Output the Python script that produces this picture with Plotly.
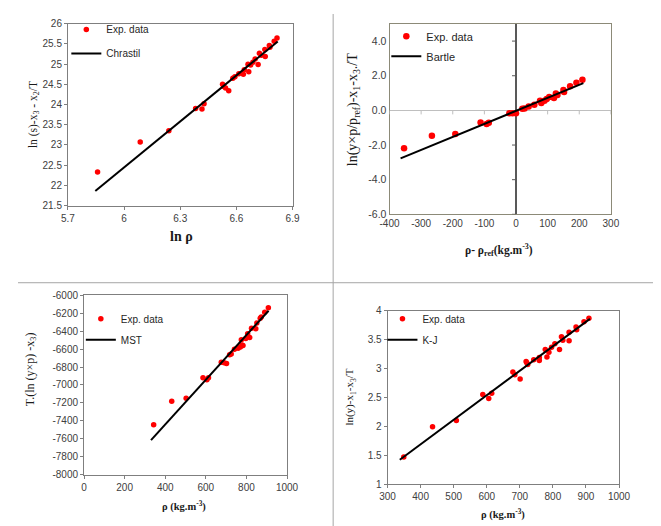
import plotly.graph_objects as go

# ---------------- data ----------------
# Panel 1: Chrastil
ln_rho = [5.858, 6.086, 6.239, 6.382, 6.416, 6.427, 6.526, 6.532, 6.542, 6.559, 6.581, 6.592,
          6.613, 6.637, 6.642, 6.662, 6.666, 6.676, 6.688, 6.700, 6.716, 6.723, 6.733, 6.752,
          6.754, 6.776, 6.779, 6.802, 6.817]
chrastil_exp = [22.33, 23.07, 23.35, 23.90, 23.89, 24.02, 24.50, 24.45, 24.41, 24.34, 24.65, 24.69,
                24.76, 24.75, 24.86, 25.00, 24.81, 24.98, 25.05, 25.13, 24.99, 25.27, 25.22, 25.36,
                25.19, 25.46, 25.42, 25.57, 25.65]
chrastil_fit_x = [5.846, 6.821]
chrastil_fit_y = [21.86, 25.56]

# Panel 2: Bartle
rho_minus_ref = [-354, -266, -192, -112, -93, -86, -21, -11, 0, 20, 27, 40, 58, 76, 80, 90, 97,
                 105, 120, 126, 131, 150, 152, 171, 191, 210]
bartle_exp = [-2.19, -1.47, -1.36, -0.70, -0.79, -0.72, -0.17, -0.17, -0.17, 0.09, 0.11, 0.23,
              0.32, 0.55, 0.42, 0.55, 0.66, 0.77, 0.72, 0.98, 0.89, 1.17, 1.06, 1.40, 1.60, 1.77]
bartle_fit_x = [-365, 213]
bartle_fit_y = [-2.77, 1.57]

# Panel 3: MST
rho_mst = [343, 432, 503, 586, 605, 613, 676, 690, 702, 717, 725, 741, 759, 770, 775, 778, 783,
           797, 806, 816, 825, 846, 851, 868, 873, 890, 908]
mst_exp = [-7444, -7182, -7149, -6920, -6942, -6920, -6745, -6753, -6760, -6662, -6655, -6600,
           -6589, -6575, -6494, -6553, -6560, -6480, -6429, -6469, -6367, -6371, -6309, -6255,
           -6240, -6189, -6138]
mst_fit_x = [330, 909]
mst_fit_y = [-7615, -6171]

# Panel 4: K-J
rho_kj = [349, 436, 508, 588, 606, 615, 679, 685, 701, 719, 721, 724, 742, 759, 759, 777, 782,
          788, 796, 806, 820, 826, 830, 849, 849, 870, 872, 894, 909]
kj_exp = [1.47, 1.99, 2.10, 2.55, 2.48, 2.57, 2.94, 2.89, 2.82, 3.12, 3.10, 3.07, 3.15, 3.19,
          3.14, 3.33, 3.20, 3.28, 3.37, 3.43, 3.33, 3.55, 3.49, 3.63, 3.48, 3.72, 3.67, 3.81, 3.87]
kj_fit_x = [337, 912]
kj_fit_y = [1.42, 3.86]

# tick values
p2_xticks = [-400, -300, -200, -100, 0, 100, 200, 300]
p2_yticks = [-6, -4, -2, 0, 2, 4]
p3_yticks = list(range(-8000, -5999, 200))

# ---------------- layout helpers ----------------
W, H = 661, 526
def fx(px):
    return px / W
def fy(py):
    return 1 - py / H

SANS = "Liberation Sans, Arial, sans-serif"
SERIF = "Liberation Serif, Times New Roman, serif"
TICKCOL = "#404040"
RED = "#ff0000"

fig = go.Figure()

def add_panel(i, xs, ys, fxs, fys, name, msize):
    xa = "x" if i == 1 else f"x{i}"
    ya = "y" if i == 1 else f"y{i}"
    lg = "legend" if i == 1 else f"legend{i}"
    fig.add_trace(go.Scatter(x=xs, y=ys, mode="markers", name="Exp. data",
                             marker=dict(color=RED, size=msize), xaxis=xa, yaxis=ya,
                             legend=lg, legendgroup=f"e{i}"))
    fig.add_trace(go.Scatter(x=fxs, y=fys, mode="lines", name=name,
                             line=dict(color="black", width=2), xaxis=xa, yaxis=ya,
                             legend=lg, legendgroup=f"f{i}"))

add_panel(1, ln_rho, chrastil_exp, chrastil_fit_x, chrastil_fit_y, "Chrastil", 5.5)
add_panel(2, rho_minus_ref, bartle_exp, bartle_fit_x, bartle_fit_y, "Bartle", 6.5)
add_panel(3, rho_mst, mst_exp, mst_fit_x, mst_fit_y, "MST", 5.5)
add_panel(4, rho_kj, kj_exp, kj_fit_x, kj_fit_y, "K-J", 5.5)

frame = dict(showline=True, mirror=True, linewidth=1, showgrid=False, zeroline=False,
             tickfont=dict(family=SANS, size=10, color=TICKCOL))

fig.update_layout(
    width=W, height=H, margin=dict(l=0, r=0, t=0, b=0),
    paper_bgcolor="white", plot_bgcolor="white", showlegend=True,
    # panel 1
    xaxis=dict(frame, domain=[fx(51.7), fx(284)], range=[5.7, 6.9], tick0=5.7, dtick=0.3,
               linecolor="#7f7f7f", ticks="outside", ticklen=3, tickcolor="#7f7f7f", anchor="y"),
    yaxis=dict(frame, domain=[fy(196), fy(10)], range=[21.5, 26], dtick=0.5,
               linecolor="#7f7f7f", ticks="outside", ticklen=3, tickcolor="#7f7f7f", anchor="x"),
    # panel 2
    xaxis2=dict(frame, domain=[fx(384.3), fx(613.3)], range=[-400, 300], tickmode="array",
                tickvals=p2_xticks, ticktext=[str(v) for v in p2_xticks],
                linecolor="#8c8a78", ticks="", anchor="y2",
                zeroline=True, zerolinecolor="#595959", zerolinewidth=1.5,
                ticklabelstandoff=0),
    yaxis2=dict(frame, domain=[fy(205), fy(10)], range=[-6, 5], tickmode="array",
                tickvals=p2_yticks, ticktext=[f"{v:.1f}" for v in p2_yticks],
                linecolor="#8c8a78", ticks="", anchor="x2",
                zeroline=True, zerolinecolor="#bfbfbf", zerolinewidth=1,
                tickfont=dict(family=SANS, size=10.5, color=TICKCOL)),
    # panel 3
    xaxis3=dict(frame, domain=[fx(68.3), fx(278.3)], range=[0, 1000], dtick=200,
                linecolor="#7f7f7f", ticks="outside", ticklen=3, tickcolor="#7f7f7f", anchor="y3"),
    yaxis3=dict(frame, domain=[fy(471.3), fy(288)], range=[-8000, -6000], tickmode="array",
                tickvals=p3_yticks, ticktext=[str(v) for v in p3_yticks],
                linecolor="#7f7f7f", ticks="outside", ticklen=3, tickcolor="#7f7f7f", anchor="x3"),
    # panel 4
    xaxis4=dict(frame, domain=[fx(382.3), fx(621.7)], range=[300, 1000], dtick=100,
                linecolor="#7f7f7f", ticks="outside", ticklen=3, tickcolor="#7f7f7f", anchor="y4"),
    yaxis4=dict(frame, domain=[fy(481), fy(303.7)], range=[1, 4], dtick=0.5,
                linecolor="#7f7f7f", ticks="outside", ticklen=3, tickcolor="#7f7f7f", anchor="x4"),
)

legend_font = dict(family=SANS, size=10, color="#262626")
def legend_at(px, py, size=10, gap=5):
    return dict(x=fx(px), y=fy(py), xanchor="left", yanchor="top",
                bgcolor="rgba(0,0,0,0)", font=dict(legend_font, size=size),
                tracegroupgap=gap, traceorder="grouped", itemwidth=30)

fig.update_layout(
    legend=legend_at(50, 1),
    legend2=legend_at(381, 8, 11, 1),
    legend3=legend_at(65, 297, 10, 2),
    legend4=legend_at(377, 297, 10, 2),
)

# axis titles as annotations
ann = []
def title(px, py, text, angle=0, size=14, bold=False):
    t = f"<b>{text}</b>" if bold else text
    ann.append(dict(x=fx(px), y=fy(py), xref="paper", yref="paper", text=t, showarrow=False,
                    textangle=angle, xanchor="center", yanchor="middle",
                    font=dict(family=SERIF, size=size, color="#1a1a1a")))

title(169, 228, "ln ρ", bold=True, size=14)
title(16, 103, "ln (s)-x<sub>3</sub> - x<sub>2</sub>/T", angle=-90, size=11.5)
title(498, 242, "ρ- ρ<sub>ref</sub>(kg.m<sup>-3</sup>)", bold=True, size=11.5)
title(347, 98, "ln(y×p/p<sub>ref</sub>)-x<sub>1</sub>-x<sub>3</sub>./T", angle=-90, size=14)
title(172, 503, "ρ (kg.m<sup>-3</sup>)", bold=True, size=10.5)
title(13, 364, "T.(ln (y×p) -x<sub>3</sub>)", angle=-90, size=12)
title(502, 512, "ρ (kg.m<sup>-3</sup>)", bold=True, size=10.5)
title(344, 392, "ln(y)-x<sub>1</sub>-x<sub>3</sub>/T", angle=-90, size=11)
fig.update_layout(annotations=ann)

shapes = [
    dict(type="line", xref="paper", yref="paper", x0=fx(326), x1=fx(326), y0=0, y1=1,
         line=dict(color="#a6a6a6", width=1)),
    dict(type="line", xref="paper", yref="paper", x0=0, x1=1, y0=fy(275), y1=fy(275),
         line=dict(color="#a6a6a6", width=1)),
]
# tick marks on the zero axes of panel 2
for v in p2_xticks:
    if v != 0:
        shapes.append(dict(type="line", xref="x2", yref="y2", ysizemode="pixel", yanchor=0,
                           x0=v, x1=v, y0=0, y1=-4, line=dict(color="#bfbfbf", width=1)))
for v in p2_yticks:
    if v != 0:
        shapes.append(dict(type="line", xref="x2", yref="y2", xsizemode="pixel", xanchor=0,
                           x0=-4, x1=0, y0=v, y1=v, line=dict(color="#595959", width=1)))
fig.update_layout(shapes=shapes)

fig.write_html("out.html")
